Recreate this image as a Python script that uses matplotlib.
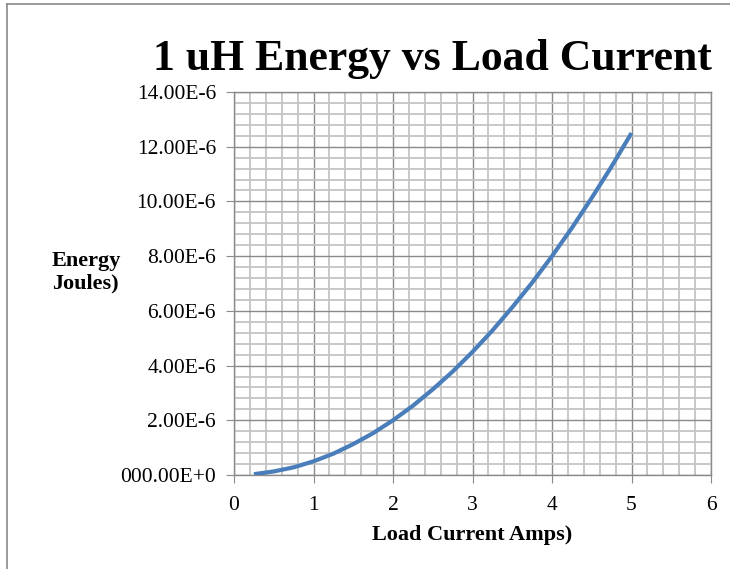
import numpy as np
import matplotlib
matplotlib.use("Agg")
import matplotlib.pyplot as plt
from matplotlib.lines import Line2D

# Load current (A) and stored energy (uJ) for a 1 uH inductor
current = [0.25, 0.5, 0.75, 1.0, 1.25, 1.5, 1.75, 2.0, 2.25, 2.5,
           2.75, 3.0, 3.25, 3.5, 3.75, 4.0, 4.25, 4.5, 4.75, 5.0]
energy_uj = [0.03, 0.13, 0.28, 0.5, 0.78, 1.13, 1.53, 2.0, 2.53, 3.13,
             3.78, 4.5, 5.28, 6.13, 7.03, 8.0, 9.03, 10.13, 11.28, 12.5]

x_ticks = [0, 1, 2, 3, 4, 5, 6]
y_ticks = [0, 2e-6, 4e-6, 6e-6, 8e-6, 10e-6, 12e-6, 14e-6]
y_labels = ["000.00E+0", "2.00E-6", "4.00E-6", "6.00E-6", "8.00E-6",
            "10.00E-6", "12.00E-6", "14.00E-6"]

serif = ["Liberation Serif", "DejaVu Serif"]

fig = plt.figure(figsize=(7.30, 5.69), dpi=100)
ax = fig.add_axes([234 / 730, 1 - 475 / 569, 477 / 730, 383 / 569])

energy = np.array(energy_uj) * 1e-6
ax.plot(current, energy, color="#4a7ebb", lw=3.0, solid_capstyle="butt", zorder=3)

ax.set_xlim(0, 6)
ax.set_ylim(0, 14e-6)
ax.set_xticks(x_ticks)
ax.set_yticks(y_ticks)
ax.set_yticklabels(y_labels)
ax.set_xticks(np.arange(0, 6.01, 0.2), minor=True)
ax.set_yticks(np.arange(0, 14.01e-6, 0.4e-6), minor=True)

ax.grid(which="minor", color="#c4c4c4", lw=1.3)
ax.grid(which="major", color="#8a8a8a", lw=1.0)
ax.set_axisbelow(True)
for s in ax.spines.values():
    s.set_color("#8a8a8a")
    s.set_linewidth(1.0)

ax.tick_params(which="major", direction="out", length=6, color="#8a8a8a",
               labelsize=15.5)
ax.tick_params(axis="y", pad=7)
ax.tick_params(axis="x", pad=9)
ax.tick_params(which="minor", length=0)
for lab in ax.get_xticklabels() + ax.get_yticklabels():
    lab.set_family(serif)

fig.text(712 / 730, 1 - 70 / 569, "1 uH Energy vs Load Current", ha="right",
         va="baseline", fontsize=31.5, fontweight="bold", family=serif)
fig.text(52 / 730, 1 - 272 / 569, "Energy\nJoules)", ha="left", va="center",
         fontsize=16, fontweight="bold", family=serif, linespacing=1.15)
fig.text(472 / 730, 1 - 535 / 569, "Load Current Amps)", ha="center",
         va="center", fontsize=16, fontweight="bold", family=serif)

# outer chart frame
fig.add_artist(Line2D([7 / 730, 7 / 730], [0, 1 - 4 / 569],
                      transform=fig.transFigure, color="#8a8a8a", lw=1.2))
fig.add_artist(Line2D([7 / 730, 1], [1 - 4 / 569, 1 - 4 / 569],
                      transform=fig.transFigure, color="#8a8a8a", lw=1.2))

fig.savefig("out.png", dpi=100)
